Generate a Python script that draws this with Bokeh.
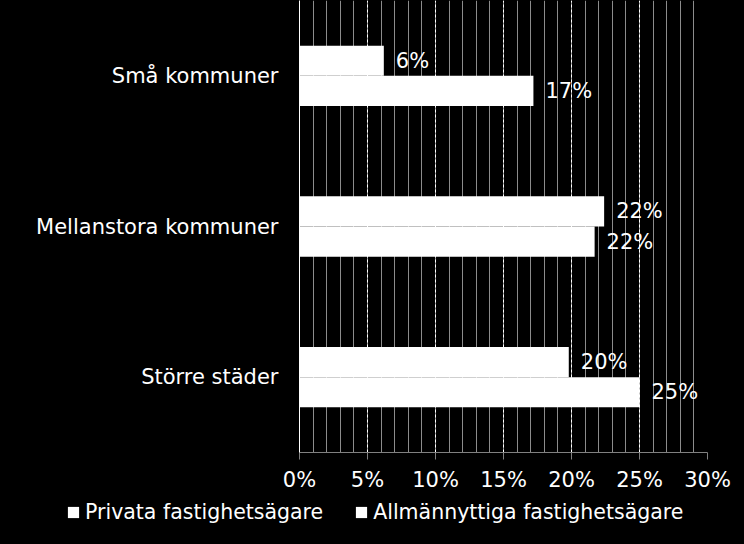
from bokeh.plotting import figure
from bokeh.models import (ColumnDataSource, FactorRange, Range1d, FixedTicker,
                          NumeralTickFormatter, Legend, LegendItem)
from bokeh.layouts import column
from bokeh.transform import dodge
from bokeh.core.properties import value
from bokeh.embed import file_html
from bokeh.resources import INLINE

# ---- data ----
categories = ["Små kommuner", "Mellanstora kommuner", "Större städer"]
series_names = ["Privata fastighetsägare", "Allmännyttiga fastighetsägare"]
privata = [0.062, 0.224, 0.198]
allmannyttiga = [0.172, 0.217, 0.250]
x_ticks = [0.0, 0.05, 0.10, 0.15, 0.20, 0.25, 0.30]

FONT = "DejaVu Sans"
FS = "21px"

factors = list(reversed(categories))  # first category on top

src = ColumnDataSource(dict(
    cat=categories,
    priv=privata,
    allm=allmannyttiga,
    priv_lbl=[f"{v * 100:.0f}%" for v in privata],
    allm_lbl=[f"{v * 100:.0f}%" for v in allmannyttiga],
))

p = figure(width=744, height=496, output_backend="svg", toolbar_location=None,
           y_range=FactorRange(*factors, range_padding=0), x_range=Range1d(0, 0.30),
           min_border_left=299, min_border_right=37, min_border_top=0, min_border_bottom=44)
p.frame_align = False

p.background_fill_color = "black"
p.border_fill_color = "black"
p.outline_line_color = None

r1 = p.hbar(y=dodge("cat", 0.1, range=p.y_range), right="priv", left=0, height=0.2,
            source=src, fill_color="white", line_color=None)
r2 = p.hbar(y=dodge("cat", -0.1, range=p.y_range), right="allm", left=0, height=0.2,
            source=src, fill_color="white", line_color=None)

p.text(x="priv", y=dodge("cat", 0.1, range=p.y_range), text="priv_lbl", source=src,
       x_offset=12, text_baseline="middle", text_align="left", text_color="white",
       text_font=value(FONT), text_font_size=FS)
p.text(x="allm", y=dodge("cat", -0.1, range=p.y_range), text="allm_lbl", source=src,
       x_offset=12, text_baseline="middle", text_align="left", text_color="white",
       text_font=value(FONT), text_font_size=FS)

# x axis
ticker = FixedTicker(ticks=x_ticks, minor_ticks=[i / 100 for i in range(31)])
p.xaxis.ticker = ticker
p.xaxis.formatter = NumeralTickFormatter(format="0%")
p.xaxis.axis_line_color = "#808080"
p.xaxis.major_tick_line_color = "#808080"
p.xaxis.major_tick_out = 7
p.xaxis.major_tick_in = 0
p.xaxis.minor_tick_line_color = None
p.xaxis.major_label_text_color = "white"
p.xaxis.major_label_text_font = FONT
p.xaxis.major_label_text_font_size = FS
p.xaxis.major_label_standoff = 8

# y axis
p.yaxis.axis_line_color = "white"
p.yaxis.major_tick_line_color = None
p.yaxis.major_tick_out = 0
p.yaxis.major_tick_in = 0
p.yaxis.minor_tick_line_color = None
p.yaxis.major_label_text_color = "white"
p.yaxis.major_label_text_font = FONT
p.yaxis.major_label_text_font_size = FS
p.yaxis.major_label_standoff = 21

# grids
p.ygrid.grid_line_color = None
p.xgrid.ticker = ticker
p.xgrid.grid_line_color = "white"
p.xgrid.grid_line_dash = "3 2"
p.xgrid.minor_grid_line_color = "#8c8c8c"

# legend strip below the chart (own small figure, full-width frame)
q = figure(width=744, height=48, output_backend="svg", toolbar_location=None,
           x_axis_location=None, y_axis_location=None, min_border=0,
           y_range=FactorRange(*factors), x_range=Range1d(0, 0.30))
q.frame_align = False
q.background_fill_color = "black"
q.border_fill_color = "black"
q.outline_line_color = None
q.grid.visible = False
l1 = q.hbar(y="cat", right="priv", height=0.2, source=src, fill_color="white", line_color=None)
l2 = q.hbar(y="cat", right="allm", height=0.2, source=src, fill_color="white", line_color=None)
l1.visible = False
l2.visible = False

legend = Legend(items=[LegendItem(label=series_names[0], renderers=[l1]),
                       LegendItem(label=series_names[1], renderers=[l2])],
                orientation="horizontal", location=(66, 20))
legend.background_fill_alpha = 0
legend.border_line_color = None
legend.inactive_fill_alpha = 0
legend.label_text_color = "white"
legend.label_text_font = FONT
legend.label_text_font_size = "20.5px"
legend.glyph_width = 14
legend.glyph_height = 14
legend.label_standoff = 5
legend.spacing = 31
legend.padding = 0
legend.margin = 0
legend.label_height = 21
q.add_layout(legend, "center")

layout = column(p, q, spacing=0)

html = file_html(layout, INLINE)
html = html.replace("<body>", '<body style="background-color:#000000;">')
open("out.html", "w").write(html)
